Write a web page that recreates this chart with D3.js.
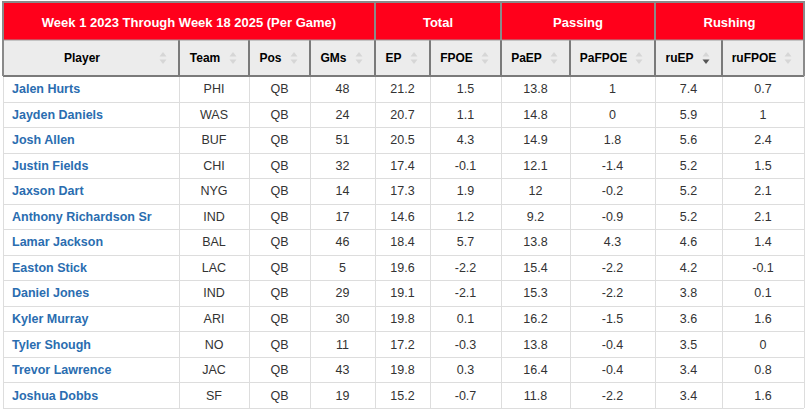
<!DOCTYPE html>
<html><head><meta charset="utf-8">
<script src="https://cdn.jsdelivr.net/npm/d3@7"></script>
<style>
html,body{margin:0;padding:0;background:#fff;}
svg{display:block;font-family:"Liberation Sans",Arial,Helvetica,sans-serif;}
</style></head>
<body>
<script>
// ---- data ----
const groups = ["Week 1 2023 Through Week 18 2025 (Per Game)", "Total", "Passing", "Rushing"];
const groupSpans = [4, 2, 2, 2];
const columns = ["Player","Team","Pos","GMs","EP","FPOE","PaEP","PaFPOE","ruEP","ruFPOE"];
const players = ["Jalen Hurts","Jayden Daniels","Josh Allen","Justin Fields","Jaxson Dart","Anthony Richardson Sr","Lamar Jackson","Easton Stick","Daniel Jones","Kyler Murray","Tyler Shough","Trevor Lawrence","Joshua Dobbs"];
const teams = ["PHI","WAS","BUF","CHI","NYG","IND","BAL","LAC","IND","ARI","NO","JAC","SF"];
const positions = ["QB","QB","QB","QB","QB","QB","QB","QB","QB","QB","QB","QB","QB"];
const games = [48,24,51,32,14,17,46,5,29,30,11,43,19];
const ep = [21.2,20.7,20.5,17.4,17.3,14.6,18.4,19.6,19.1,19.8,17.2,19.8,15.2];
const fpoe = [1.5,1.1,4.3,-0.1,1.9,1.2,5.7,-2.2,-2.1,0.1,-0.3,0.3,-0.7];
const paEP = [13.8,14.8,14.9,12.1,12,9.2,13.8,15.4,15.3,16.2,13.8,16.4,11.8];
const paFPOE = [1,0,1.8,-1.4,-0.2,-0.9,4.3,-2.2,-2.2,-1.5,-0.4,-0.4,-2.2];
const ruEP = [7.4,5.9,5.6,5.2,5.2,5.2,4.6,4.2,3.8,3.6,3.5,3.4,3.4];
const ruFPOE = [0.7,1,2.4,1.5,2.1,2.1,1.4,-0.1,0.1,1.6,0,0.8,1.6];
const sortedColumn = "ruEP";

// ---- layout ----
const W = 806, H = 409;
const colEdges = [3,179,249,310,375,430,501,570,655,722,804];
const yTop = 2, yGroupBottom = 40, yHeadBottom = 76, yBottom = 408;

const rows = players.map((p,i)=>[p,teams[i],positions[i],games[i],ep[i],fpoe[i],paEP[i],paFPOE[i],ruEP[i],ruFPOE[i]]);

const svg = d3.select("body").append("svg").attr("width",W).attr("height",H);

const x = d3.scaleOrdinal().domain(columns).range(colEdges.slice(0,-1));
const xr = d3.scaleOrdinal().domain(columns).range(colEdges.slice(1));
const y = d3.scaleBand().domain(d3.range(rows.length)).range([yHeadBottom, yBottom]);

// data rows background
svg.append("rect").attr("x",colEdges[0]).attr("y",yHeadBottom).attr("width",colEdges[10]-colEdges[0]).attr("height",yBottom-yHeadBottom).attr("fill","#fff");

// horizontal lines of data rows
svg.append("g").selectAll("line").data(d3.range(rows.length)).join("line")
  .attr("x1",colEdges[0]).attr("x2",colEdges[10])
  .attr("y1",d=>Math.round(y(d)+y.bandwidth())+0.5).attr("y2",d=>Math.round(y(d)+y.bandwidth())+0.5)
  .attr("stroke","#dddddd").attr("stroke-width",1);
// vertical lines of data rows
svg.append("g").selectAll("line").data(colEdges).join("line")
  .attr("x1",d=>d+0.5).attr("x2",d=>d+0.5).attr("y1",yHeadBottom).attr("y2",yBottom)
  .attr("stroke","#dddddd").attr("stroke-width",1);

// group header
let ci = 0;
const groupCells = groups.map((g,i)=>{const s=ci; ci+=groupSpans[i]; return {g, x0:colEdges[s], x1:colEdges[ci]};});
const gg = svg.append("g");
gg.selectAll("rect").data(groupCells).join("rect")
  .attr("x",d=>d.x0).attr("y",yTop).attr("width",d=>d.x1-d.x0).attr("height",yGroupBottom-yTop)
  .attr("fill","#ff001b");
gg.selectAll("text").data(groupCells).join("text")
  .attr("x",d=>(d.x0+d.x1)/2).attr("y",(yTop+yGroupBottom)/2+1).attr("dy","0.35em")
  .attr("text-anchor","middle").attr("fill","#fff").attr("font-weight","bold").attr("font-size","13px")
  .text(d=>d.g);
gg.selectAll("line").data(groupCells).join("line")
  .attr("x1",d=>d.x1).attr("x2",d=>d.x1).attr("y1",yTop).attr("y2",yGroupBottom)
  .attr("stroke","#8a8a8a").attr("stroke-width",2);

// column header
const hg = svg.append("g");
hg.append("rect").attr("x",colEdges[0]).attr("y",yGroupBottom).attr("width",colEdges[10]-colEdges[0]).attr("height",yHeadBottom-yGroupBottom).attr("fill","#ececec");
hg.selectAll("text").data(columns).join("text")
  .attr("x",d=>(x(d)+10+xr(d)-28)/2).attr("y",(yGroupBottom+yHeadBottom)/2).attr("dy","0.35em")
  .attr("text-anchor","middle").attr("fill","#000").attr("font-weight","bold").attr("font-size","12px")
  .text(d=>d);
const icons = hg.selectAll("g.icon").data(columns).join("g").attr("class","icon")
  .attr("transform",d=>`translate(${xr(d)-16},${(yGroupBottom+yHeadBottom)/2})`);
icons.append("path").attr("d","M-3.5,-1.5 L3.5,-1.5 L0,-6 Z").attr("fill","#d6d6d6");
icons.append("path").attr("d","M-3.5,1.5 L3.5,1.5 L0,6 Z").attr("fill",d=>d===sortedColumn?"#555":"#d6d6d6");
hg.selectAll("line").data(colEdges).join("line")
  .attr("x1",d=>d).attr("x2",d=>d).attr("y1",yGroupBottom).attr("y2",yHeadBottom)
  .attr("stroke","#7a7a7a").attr("stroke-width",2);
hg.append("line").attr("x1",colEdges[0]).attr("x2",colEdges[10]).attr("y1",yHeadBottom).attr("y2",yHeadBottom).attr("stroke","#7a7a7a").attr("stroke-width",2);
hg.append("line").attr("x1",colEdges[0]).attr("x2",colEdges[10]).attr("y1",yGroupBottom).attr("y2",yGroupBottom).attr("stroke","#9a9a9a").attr("stroke-width",1);

// outer borders of header area
svg.append("path").attr("d",`M${colEdges[0]},${yHeadBottom} V${yTop} H${colEdges[10]} V${yHeadBottom}`)
  .attr("fill","none").attr("stroke","#8a8a8a").attr("stroke-width",2);

// cells
const rg = svg.append("g").selectAll("g").data(rows).join("g")
  .attr("transform",(d,i)=>`translate(0,${y(i)+y.bandwidth()/2})`);
rg.selectAll("text").data(d=>d.map((v,j)=>({v,j}))).join("text")
  .attr("x",d=>d.j===0?colEdges[0]+9:(colEdges[d.j]+colEdges[d.j+1])/2)
  .attr("dy","0.35em")
  .attr("text-anchor",d=>d.j===0?"start":"middle")
  .attr("font-size","12.5px")
  .attr("font-weight",d=>d.j===0?"bold":"normal")
  .attr("fill",d=>d.j===0?"#2a6db0":"#333")
  .text(d=>d.v);
</script>
</body></html>
